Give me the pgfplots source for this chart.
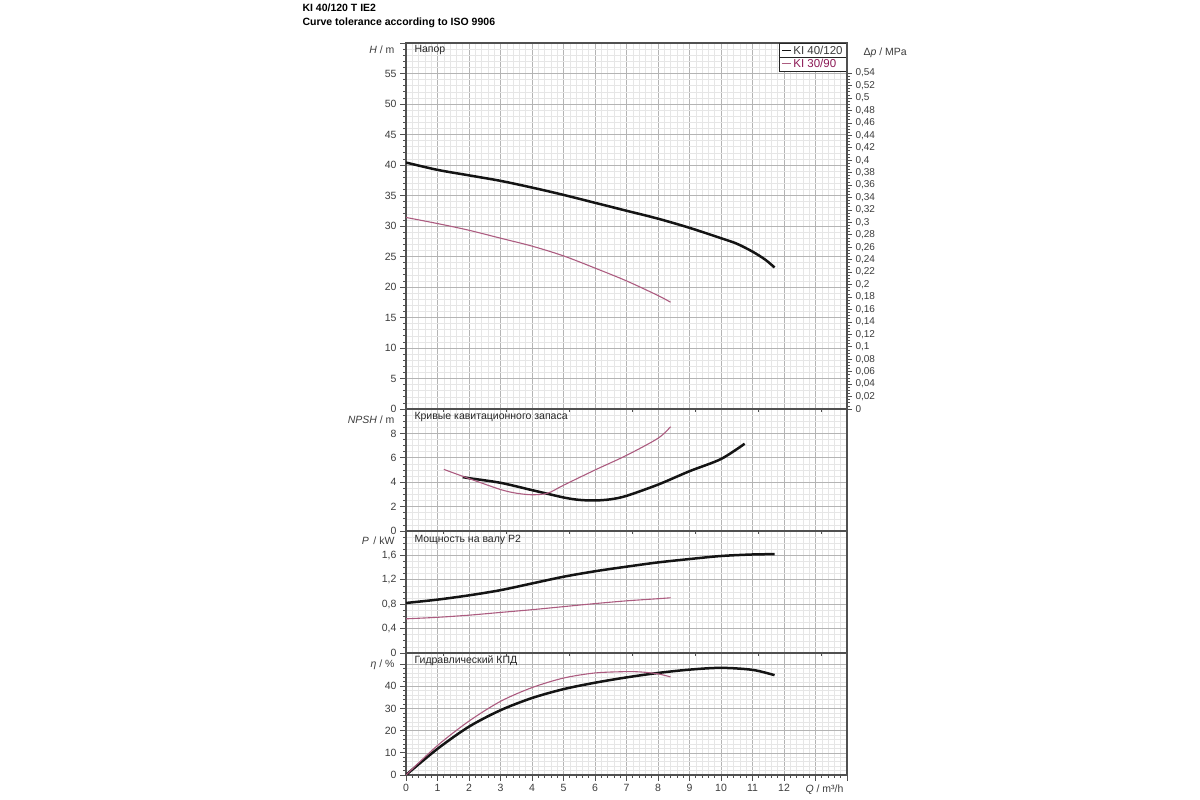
\documentclass[border=0pt]{standalone}
\usepackage{pgfplots}
\pgfplotsset{compat=1.18}
\usepackage{fontspec}
\setmainfont{Liberation Sans}
\definecolor{pinkc}{RGB}{172,92,128}
\definecolor{legpink}{RGB}{140,25,85}
\definecolor{gmaj}{RGB}{180,180,180}
\definecolor{gmin}{RGB}{230,230,230}
\definecolor{framec}{RGB}{80,80,80}
\definecolor{txt}{RGB}{60,60,60}

\pgfplotsset{
 panel/.style={
  scale only axis, width=441pt, xmin=0, xmax=14,
  xtick={0,1,...,14}, minor x tick num=4,
  grid=both,
  major grid style={gmaj, line width=0.6pt},
  minor grid style={gmin, line width=0.5pt},
  axis line style={framec, line width=1.3pt},
  tick align=outside,
  ytick pos=left, xtick pos=bottom,
  major tick length=6pt, minor tick length=3pt,
  every tick/.style={framec, line width=0.7pt},
  tick label style={font=\fontsize{10.5}{12}\selectfont, text=txt},
  /pgf/number format/assume math mode=true,
  /pgf/number format/use comma,
  anchor=north west,
 },
 kblack/.style={black!92, line width=2.5pt, smooth, no markers},
 kpink/.style={pinkc, line width=1.1pt, smooth, no markers},
}

\begin{document}
\begin{tikzpicture}
\path[use as bounding box] (0pt,0pt) rectangle (1200pt,800pt);

% titles
\node[anchor=west, font=\bfseries\fontsize{10.5}{12}\selectfont] at (299pt,792pt) {KI 40/120 T IE2};
\node[anchor=west, font=\bfseries\fontsize{10.5}{12}\selectfont] at (299pt,777pt) {Curve tolerance according to ISO 9906};

% ---------- Panel 1: head ----------
\begin{axis}[panel, at={(406pt,757pt)}, height=366pt,
  ymin=0, ymax=60, ytick={0,5,...,60}, minor y tick num=4,
  yticklabels={0,5,10,15,20,25,30,35,40,45,50,55,{}},
  xmajorticks=false, xminorticks=false,
  legend style={at={(rel axis cs:1,1)}, anchor=north east, draw=black!85, line width=0.8pt,
    fill=white, font=\fontsize{11.5}{12.5}\selectfont, inner xsep=2pt, inner ysep=0.5pt,
    row sep=-1pt, text=txt, name=leg},
  legend cell align=left,
  legend image code/.code={\draw[#1, line width=1pt] (0pt,0pt) -- (9pt,0pt);},
]
\addplot[kblack] coordinates {(0,40.4) (1,39.2) (2,38.3) (3,37.4) (4,36.3) (5,35.1) (6,33.8) (7,32.5) (8,31.2) (9,29.7) (10,28.0) (10.5,27.1) (11,25.8) (11.4,24.5) (11.7,23.2)};
\addlegendentry{KI 40/120}
\addplot[kpink] coordinates {(0,31.4) (1,30.4) (2,29.3) (3,28.0) (4,26.7) (5,25.1) (6,23.1) (7,21.0) (8,18.6) (8.4,17.5)};
\addlegendentry{\textcolor{legpink}{KI 30/90}}
\end{axis}
\draw[black!85, line width=0.8pt] (leg.west) -- (leg.east);

% right axis: pressure
\begin{axis}[scale only axis, width=441pt, height=366pt, at={(406pt,757pt)}, anchor=north west,
  xmin=0, xmax=14, ymin=0, ymax=0.58840,
  axis x line=none, axis y line*=right,
  axis line style={framec, line width=1.3pt},
  ytick={0,0.02,0.04,0.06,0.08,0.1,0.12,0.14,0.16,0.18,0.2,0.22,0.24,0.26,0.28,0.3,0.32,0.34,0.36,0.38,0.4,0.42,0.44,0.46,0.48,0.5,0.52,0.54},
  minor y tick num=3, tick align=outside,
  major tick length=5pt, minor tick length=3pt,
  every tick/.style={framec, line width=0.7pt},
  tick label style={font=\fontsize{10}{12}\selectfont, text=txt},
  /pgf/number format/.cd, fixed, precision=2, use comma, assume math mode=true,
]
\addplot[draw=none] coordinates {(0,0) (1,0.1)};
\end{axis}

% ---------- Panel 2: NPSH ----------
\begin{axis}[panel, at={(406pt,391pt)}, height=122pt,
  ymin=0, ymax=10, ytick={0,2,...,10}, minor y tick num=3,
  yticklabels={0,2,4,6,8,{}},
  xmajorticks=false, xminorticks=false,
]
\addplot[kblack] coordinates {(1.8,4.42) (2,4.33) (3,3.95) (4,3.35) (5,2.75) (5.5,2.55) (6,2.5) (6.5,2.6) (7,2.88) (8,3.8) (9,4.9) (10,5.9) (10.75,7.15)};
\addplot[kpink] coordinates {(1.2,5.05) (2,4.3) (3,3.4) (3.5,3.1) (4,2.97) (4.5,3.1) (5,3.75) (6,5.0) (7,6.2) (8,7.6) (8.4,8.55)};
\end{axis}

% ---------- Panel 3: power ----------
\begin{axis}[panel, at={(406pt,269pt)}, height=122pt,
  ymin=0, ymax=2, ytick={0,0.4,0.8,1.2,1.6,2.0}, minor y tick num=3,
  yticklabels={0,{0,4},{0,8},{1,2},{1,6},{}},
  xmajorticks=false, xminorticks=false,
]
\addplot[kblack] coordinates {(0,0.82) (1,0.875) (2,0.945) (3,1.03) (4,1.14) (5,1.25) (6,1.34) (7,1.415) (8,1.485) (9,1.54) (10,1.59) (11,1.615) (11.7,1.62)};
\addplot[kpink] coordinates {(0,0.56) (1,0.585) (2,0.62) (3,0.665) (4,0.71) (5,0.76) (6,0.81) (7,0.855) (8,0.89) (8.4,0.905)};
\end{axis}

% ---------- Panel 4: efficiency ----------
\begin{axis}[panel, at={(406pt,147pt)}, height=122pt,
  ymin=0, ymax=55, ytick={0,10,...,50}, minor y tick num=4,
  yticklabels={0,10,20,30,40,{}},
  xticklabels={0,1,2,3,4,5,6,7,8,9,10,11,12,{},{}},
]
\addplot[kblack] coordinates {(0,0) (1,11.8) (2,21.8) (3,29.2) (4,34.7) (5,38.7) (6,41.6) (7,44.0) (8,46.0) (9,47.5) (10,48.3) (11,47.4) (11.7,45.0)};
\addplot[kpink] coordinates {(0,0) (1,13.3) (2,24.3) (3,33.2) (4,39.4) (5,43.7) (6,46.0) (7,46.6) (7.5,46.4) (8,45.6) (8.4,44.2)};
\end{axis}

% axis labels and panel titles
\begin{scope}[every node/.style={font=\fontsize{10.5}{12}\selectfont, text=txt}]
\node[anchor=east] at (398pt,750pt) {\textit{H} / m};
\node[anchor=east] at (398pt,380pt) {\textit{NPSH} / m};
\node[anchor=east] at (398pt,259pt) {\textit{P}\, / kW};
\node[anchor=east] at (398pt,135pt) {\textit{η} / \%};
\node[anchor=west] at (860pt,747pt) {Δ\textit{p} / MPa};
\node[anchor=east] at (847pt,10pt) {\textit{Q} / m³/h};
\node[anchor=west, text=black!85] at (411pt,750pt) {Напор};
\node[anchor=west, text=black!85] at (411pt,383pt) {Кривые кавитационного запаса};
\node[anchor=west, text=black!85] at (411pt,260pt) {Мощность на валу P2};
\node[anchor=west, text=black!85] at (411pt,139pt) {Гидравлический КПД};
\end{scope}
\end{tikzpicture}
\end{document}
